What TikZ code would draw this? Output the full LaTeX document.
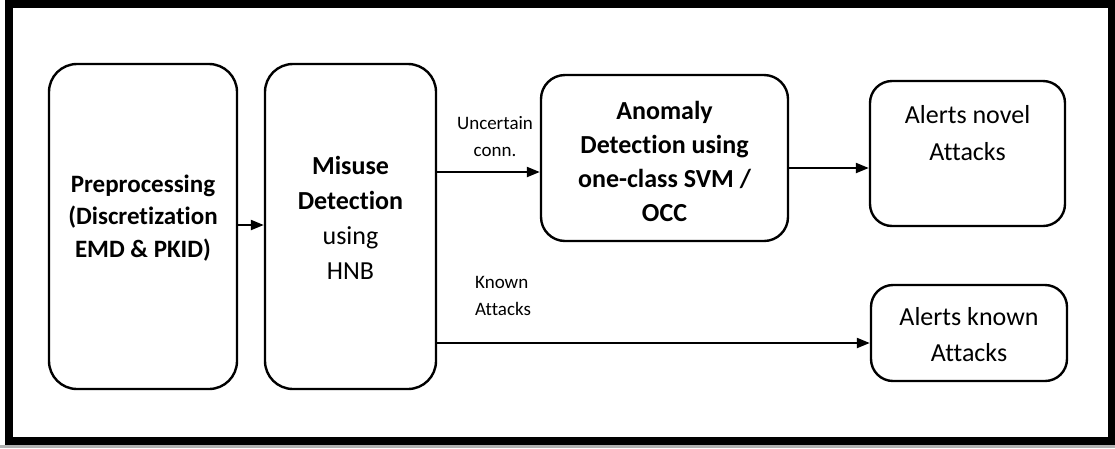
\documentclass[tikz,border=0pt]{standalone}
\usepackage{fontspec}
\setmainfont{Carlito}[Ligatures={NoCommon}]
\usetikzlibrary{arrows.meta}
\begin{document}
\begin{tikzpicture}[x=1pt,y=-1pt,
  stage/.style={draw, line width=2.4pt, rounded corners=#1, inner sep=0pt},
  flow/.style={line width=2.2pt, -{Triangle[length=13pt,width=10pt]}},
  bigtext/.style={align=center, inner sep=0pt, font=\fontsize{26pt}{35pt}\selectfont},
  smalltext/.style={inner sep=0pt, font=\fontsize{19pt}{26.5pt}\selectfont}]
\useasboundingbox (0,0) rectangle (1115,448);
\fill[white] (0,0) rectangle (1115,448);
\fill[gray!60] (0,445) rectangle (1115,448);
% outer frame
\draw[line width=8pt] (9,4) rectangle (1112,440.5);

% stage boxes
\node[stage=28pt, minimum width=188pt, minimum height=325pt] (pre) at (143,226.5) {};
\node[stage=28pt, minimum width=171pt, minimum height=325pt] (mis) at (350.5,226.5) {};
\node[stage=24pt, minimum width=247pt, minimum height=166pt] (anom) at (664.5,158) {};
\node[stage=22pt, minimum width=195pt, minimum height=145pt] (novel) at (967.5,153.5) {};
\node[stage=22pt, minimum width=196pt, minimum height=96pt] (known) at (969,333) {};

% box texts
\node[bigtext, font=\fontsize{25pt}{32.5pt}\selectfont\bfseries] (pret) at (143,218)
  {Preprocessing\\(Discretization\\EMD \& PKID)};
\node[bigtext] (mist) at (350.5,217.5)
  {\textbf{Misuse}\\\textbf{Detection}\\using\\HNB};
\node[bigtext, font=\fontsize{26pt}{34pt}\selectfont\bfseries] (anomt) at (664.5,161)
  {Anomaly\\Detection using\\one-class SVM /\\OCC};
\node[bigtext, font=\fontsize{26pt}{37pt}\selectfont] (novelt) at (967.5,133.5)
  {Alerts novel\\Attacks};
\node[bigtext, font=\fontsize{26pt}{36pt}\selectfont] (knownt) at (969,335)
  {Alerts known\\Attacks};

% connectors
\draw[flow] (pre.east |- 0,225) -- (mis.west |- 0,225);
\draw[flow] (mis.east |- 0,172) -- (anom.west |- 0,172);
\draw[flow] (anom.east |- 0,168) -- (novel.west |- 0,168);
\draw[flow] (mis.east |- 0,343) -- (known.west |- 0,343);

% connector labels
\node[smalltext, align=center] (unc) at (495,136.5) {Uncertain\\conn.};
\node[smalltext, align=left, anchor=west] (kat) at (475,296) {Known\\Attacks};
\end{tikzpicture}
\end{document}
